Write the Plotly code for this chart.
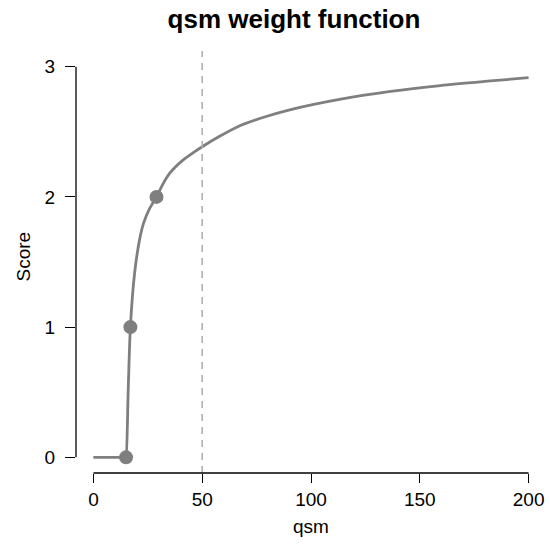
import plotly.graph_objects as go

# curve
qsm = [0, 14.9, 15, 16, 17, 18.9, 21.2, 23.1, 25.8, 29, 32, 35, 41, 46.4, 50, 58, 67.8,
       79, 90.7, 113.7, 136.6, 159.5, 182.4, 200]
score = [0, 0, 0, 0.52, 1, 1.41, 1.67, 1.80, 1.91, 2.0, 2.10, 2.18, 2.28, 2.345, 2.385, 2.465,
         2.55, 2.615, 2.67, 2.75, 2.81, 2.855, 2.89, 2.915]

# control points
pt_qsm = [15, 17, 29]
pt_score = [0, 1, 2]

cutoff = 50
x_ticks = [0, 50, 100, 150, 200]
y_ticks = [0, 1, 2, 3]

grey = '#7f7f7f'
fnt = 'Liberation Sans, Arial, Helvetica, sans-serif'

fig = go.Figure()

fig.add_trace(go.Scatter(
    x=qsm, y=score, mode='lines',
    line=dict(color=grey, width=2.8, shape='spline', smoothing=0.8),
    hoverinfo='skip'))

fig.add_trace(go.Scatter(
    x=pt_qsm, y=pt_score, mode='markers',
    marker=dict(color=grey, size=14)))

# dashed cutoff line
fig.add_vline(x=cutoff, line=dict(color='#b0b0b0', width=1.6, dash='7px,6px'))

# R-style axis lines, only over the tick range
fig.add_shape(type='line', xref='x', yref='paper', x0=x_ticks[0], x1=x_ticks[-1],
              y0=0, y1=0, line=dict(color='black', width=1.3))
fig.add_shape(type='line', xref='paper', yref='y', x0=0, x1=0,
              y0=y_ticks[0], y1=y_ticks[-1], line=dict(color='black', width=1.3))

fig.update_layout(
    width=550,
    height=548,
    margin=dict(l=76, r=4, t=51, b=75),
    plot_bgcolor='white',
    paper_bgcolor='white',
    showlegend=False,
    font=dict(family=fnt, size=19, color='black'),
    title=dict(text='<b>qsm weight function</b>', x=294 / 550, xanchor='center',
               xref='container', y=1 - 19 / 548, yref='container', yanchor='middle',
               font=dict(size=26, family=fnt, color='black')),
    annotations=[
        dict(text='qsm', xref='paper', yref='paper', x=0.5, y=-(526 - 473) / 422,
             showarrow=False, xanchor='center', yanchor='middle',
             font=dict(size=19)),
        dict(text='Score', xref='paper', yref='paper', x=-(76 - 22.5) / 470,
             y=(473 - 257) / 422, showarrow=False, textangle=-90,
             xanchor='center', yanchor='middle', font=dict(size=19)),
    ],
)

fig.update_xaxes(
    range=[-8, 208],
    tickvals=x_ticks,
    ticks='outside', ticklen=9, tickwidth=1.3, tickcolor='black',
    showgrid=False, zeroline=False, showline=False, automargin=False)

fig.update_yaxes(
    range=[-0.12, 3.12],
    tickvals=y_ticks,
    ticks='outside', ticklen=10, tickwidth=1.3, tickcolor='black',
    ticklabelstandoff=6,
    showgrid=False, zeroline=False, showline=False, automargin=False)

# page body has a default 8px margin, drop it so the figure fills the window
fig.write_html("out.html", config={'displayModeBar': False},
               post_script="document.body.style.margin='0px';")
